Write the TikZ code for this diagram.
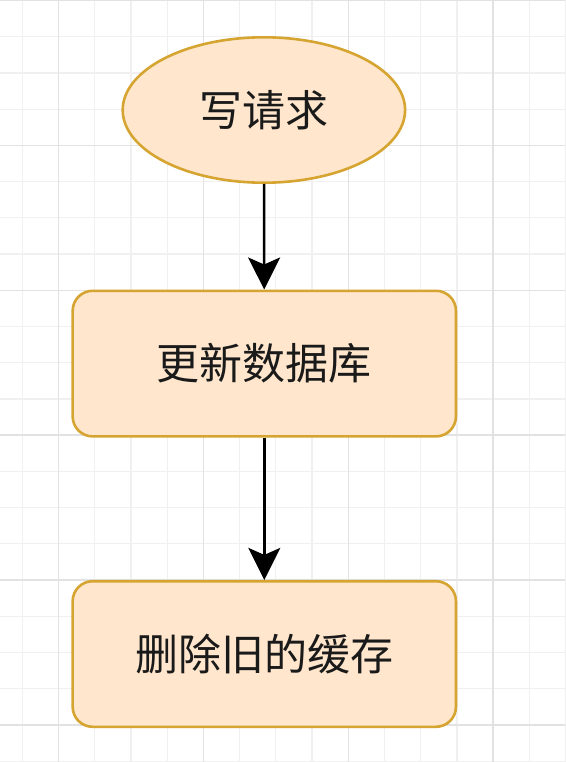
\documentclass[tikz,border=0pt]{standalone}
\usepackage{fontspec}
\setmainfont{Noto Sans CJK SC}
\usetikzlibrary{arrows.meta,shapes.geometric}
\definecolor{boxfill}{HTML}{FFE6CC}
\definecolor{boxline}{HTML}{D6A531}
\definecolor{gridminor}{HTML}{F0F0F0}
\definecolor{gridmajor}{HTML}{E2E2E2}
\definecolor{txt}{HTML}{1A1A1A}
\tikzset{
  flowshape/.style={draw=boxline, fill=boxfill, line width=2.6pt, inner sep=0pt,
    text=txt, font=\fontsize{43}{50}\selectfont},
  startnode/.style={flowshape, ellipse, minimum width=282.4pt, minimum height=145.4pt},
  procbox/.style={flowshape, rectangle, rounded corners=20pt, minimum width=383.3pt, minimum height=145.6pt},
  flowarrow/.style={draw=black, line width=2.5pt, -{Stealth[length=32pt,width=32pt,inset=7pt]}},
}
\begin{document}
\begin{tikzpicture}[x=1pt,y=-1pt]
\useasboundingbox (0,0) rectangle (565,762);
\fill[white] (0,0) rectangle (565,762);
% minor grid
\foreach \i in {0,...,15} {
  \draw[gridminor, line width=1.2pt] ({22.3+36.22*\i},0) -- ({22.3+36.22*\i},762);
}
\foreach \j in {0,...,21} {
  \draw[gridminor, line width=1.2pt] (0,{0.5+36.22*\j}) -- (565,{0.5+36.22*\j});
}
% major grid
\foreach \i in {0,...,3} {
  \draw[gridmajor, line width=1.4pt] ({58.5+144.88*\i},0) -- ({58.5+144.88*\i},762);
}
\foreach \j in {0,...,5} {
  \draw[gridmajor, line width=1.4pt] (0,{0.5+144.88*\j}) -- (565,{0.5+144.88*\j});
}
\node[startnode] (req) at (263.9,110) {写请求};
\node[procbox] (db) at (264.3,363.6) {更新数据库};
\node[procbox] (cache) at (264.3,654) {删除旧的缓存};
\draw[flowarrow] (req) -- (db);
\draw[flowarrow] (db) -- (cache);
\end{tikzpicture}
\end{document}
